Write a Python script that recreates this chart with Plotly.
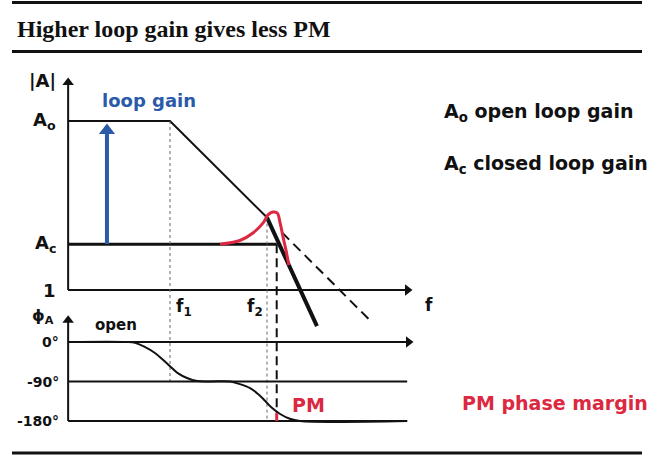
import plotly.graph_objects as go

# ---------------- data ----------------
# x: frequency in decades (log10 f); magnitude in dB; phase in degrees
f_axis = -0.1          # where the vertical axes stand
f_end = 7.0            # end of the frequency axes
f_grid_end = 6.89      # end of the -90 / -180 reference lines
f_1 = 2.0              # first pole
f_2 = 4.0              # second pole
f_c = 4.2              # closed-loop bandwidth
f_loop_arrow = 0.7     # position of the "loop gain" arrow

a_open_db = 70         # A_o
a_closed_db = 19       # A_c
mag_top_db = 88        # top of |A| axis
phase_top_deg = 61     # top of phi axis

open_f = [f_axis, f_1, f_2]
open_db = [70, 70, 30]
steep_f = [4.0, 5.03]
steep_db = [30, -15]
ext_f = [4.31, 6.16]
ext_db = [23.8, -13.3]
closed_f = [f_axis, f_c]
closed_db = [19, 19]

peak_f = [3.03, 3.44, 3.71, 3.92, 4.02, 4.12, 4.21, 4.27, 4.33, 4.39, 4.45]
peak_db = [19.0, 20.5, 23.6, 27.8, 31.1, 32.3, 31.9, 27.8, 22.0, 16.6, 10.3]

phase_f = [-0.1, 1.11, 1.28, 1.48, 1.69, 1.86, 2.0, 2.16, 2.35, 2.56, 2.82,
           3.24, 3.44, 3.65, 3.81, 3.96, 4.10, 4.27, 4.47, 4.68, 6.89]
phase_deg = [0, 0, -2, -11, -25, -41, -55, -71, -82, -89, -90,
             -90, -96, -105, -118, -134, -150, -164, -175, -180, -180]
phase_at_fc = -162

phase_levels = [0, -90, -180]
phase_labels = ["0°", "-90°", "-180°"]
mag_levels = [a_open_db, a_closed_db, 0]
mag_labels = ["A<sub>o</sub>", "A<sub>c</sub>", "1"]

title_text = "Higher loop gain gives less PM"
legend_texts = ["A<sub>o</sub> open loop gain", "A<sub>c</sub> closed loop gain"]
pm_text = "PM phase margin"

# ---------------- layout constants ----------------
WIDTH, HEIGHT = 670, 457
X_RANGE = [-1.505, 12.309]
MAG_RANGE = [-69.18, 120.13]
PH_RANGE = [-262.0, 779.2]
PX_X = WIDTH / (X_RANGE[1] - X_RANGE[0])        # pixels per x unit
PX_MAG = HEIGHT / (MAG_RANGE[1] - MAG_RANGE[0])  # pixels per dB
PX_PH = HEIGHT / (PH_RANGE[1] - PH_RANGE[0])     # pixels per degree

BLACK = "#111111"
RED = "#dc2840"
BLUE = "#2b5aa8"
GREY = "#666666"
SANS = "DejaVu Sans"


def db_to_deg(db):
    return PH_RANGE[0] + (db - MAG_RANGE[0]) / (MAG_RANGE[1] - MAG_RANGE[0]) * (PH_RANGE[1] - PH_RANGE[0])


fig = go.Figure()


def line(x, y, color=BLACK, width=2, dash="solid", axis="y", shape="linear"):
    fig.add_trace(go.Scatter(x=x, y=y, mode="lines", yaxis=axis, hoverinfo="skip",
                             line=dict(color=color, width=width, dash=dash, shape=shape)))


def head(x, y, symbol, size, color=BLACK, axis="y"):
    fig.add_trace(go.Scatter(x=[x], y=[y], mode="markers", yaxis=axis, hoverinfo="skip",
                             marker=dict(symbol=symbol, size=size, color=color,
                                         line=dict(width=0))))


def up_arrow(x, y_tail, y_tip, px_per_unit, size=10, width=2, color=BLACK, axis="y"):
    r = size / 2
    centre = y_tip - r / px_per_unit
    line([x, x], [y_tail, centre + 0.5 * r / px_per_unit], color=color, width=width, axis=axis)
    head(x, centre, "triangle-up", size, color, axis)


def right_arrow(y, x_tail, x_tip, size=10, width=2, color=BLACK, axis="y"):
    r = size / 2
    centre = x_tip - r / PX_X
    line([x_tail, centre - 0.5 * r / PX_X], [y, y], color=color, width=width, axis=axis)
    head(centre, y, "triangle-right", size, color, axis)


# dotted guides
line([f_1, f_1], [db_to_deg(a_open_db), -90], color=GREY, width=1, dash="dot", axis="y2")
line([f_2, f_2], [db_to_deg(30), -180], color=GREY, width=1, dash="dot", axis="y2")

# axes with arrowheads
up_arrow(f_axis, 0, mag_top_db, PX_MAG)
right_arrow(0, f_axis, f_end)
up_arrow(f_axis, -180, phase_top_deg, PX_PH, axis="y2")
right_arrow(0, f_axis, f_end + 0.02, axis="y2")

# magnitude plot
line(open_f, open_db, width=2)
line(ext_f, ext_db, width=2, dash="10px,6px")
line(closed_f, closed_db, width=3)
line(steep_f, steep_db, width=4)
line(peak_f, peak_db, color=RED, width=3, shape="spline")
up_arrow(f_loop_arrow, a_closed_db, a_open_db - 1, PX_MAG, size=14, width=4, color=BLUE)

# phase plot
line([f_axis, f_grid_end], [-90, -90], width=2, axis="y2")
line([f_axis, f_grid_end], [-180, -180], width=2, axis="y2")
line(phase_f, phase_deg, width=2, axis="y2", shape="spline")

# closed loop bandwidth marker and phase margin
line([f_c, f_c], [db_to_deg(a_closed_db), phase_at_fc], width=2, dash="9px,5px", axis="y2")
line([f_c, f_c], [phase_at_fc, -180], color=RED, width=3, axis="y2")

annotations = []


def text(t, x, y, yref="y", xanchor="center", xshift=0, yshift=0, size=15, color=BLACK,
         family=SANS, bold=True, xref="x"):
    annotations.append(dict(text=f"<b>{t}</b>" if bold else t, x=x, y=y, xref=xref, yref=yref,
                            xanchor=xanchor, yanchor="middle", xshift=xshift, yshift=yshift,
                            showarrow=False, font=dict(size=size, color=color, family=family)))


text("|A|", f_axis, mag_top_db, xanchor="right", xshift=-10, yshift=-3, size=18)
for lv, lb in zip(mag_levels, mag_labels):
    text(lb, f_axis, lv, xanchor="right", xshift=-10, size=18)
text("ϕ<sub>A</sub>", f_axis, 57, yref="y2", xanchor="right", xshift=-12, size=16)
for lv, lb in zip(phase_levels, phase_labels):
    text(lb, f_axis, lv, yref="y2", xanchor="right", xshift=-7, size=14)

text("loop gain", 0.557, 78.7, xanchor="left", size=18, color=BLUE)
text("f", f_end, 0, xanchor="left", xshift=10, yshift=-15, size=17)
text("f<sub>1</sub>", f_1, 0, xanchor="left", xshift=4, yshift=-17, size=17)
text("f<sub>2</sub>", f_2, 0, xanchor="right", xshift=-2, yshift=-17, size=17)
text("open", 0.89, 38.7, yref="y2", size=15)
text("PM", 4.47, -143.5, yref="y2", xanchor="left", size=19, color=RED)

text(legend_texts[0], 0.6597, 0.7549, xref="paper", yref="paper", xanchor="left", size=19)
text(legend_texts[1], 0.6597, 0.639, xref="paper", yref="paper", xanchor="left", size=19)
text(pm_text, 0.6866, 0.1182, xref="paper", yref="paper", xanchor="left", size=19, color=RED)
text(title_text, 0.0224, 0.9365, xref="paper", yref="paper", xanchor="left", size=24,
     family="Liberation Serif")

shapes = []
for py in [2.5, 51.5, 453.0]:
    yp = 1 - py / HEIGHT
    shapes.append(dict(type="line", xref="paper", yref="paper", x0=12 / WIDTH, x1=642 / WIDTH,
                       y0=yp, y1=yp, line=dict(color=BLACK, width=3)))

fig.update_layout(
    width=WIDTH, height=HEIGHT, margin=dict(l=0, r=0, t=0, b=0),
    paper_bgcolor="white", plot_bgcolor="white", showlegend=False,
    xaxis=dict(range=X_RANGE, visible=False, fixedrange=True),
    yaxis=dict(range=MAG_RANGE, visible=False, fixedrange=True),
    yaxis2=dict(range=PH_RANGE, visible=False, overlaying="y", fixedrange=True),
    annotations=annotations, shapes=shapes,
)

fig.write_html("out.html", config={"displayModeBar": False},
               post_script="document.body.style.margin='0';document.body.style.overflow='hidden';")
